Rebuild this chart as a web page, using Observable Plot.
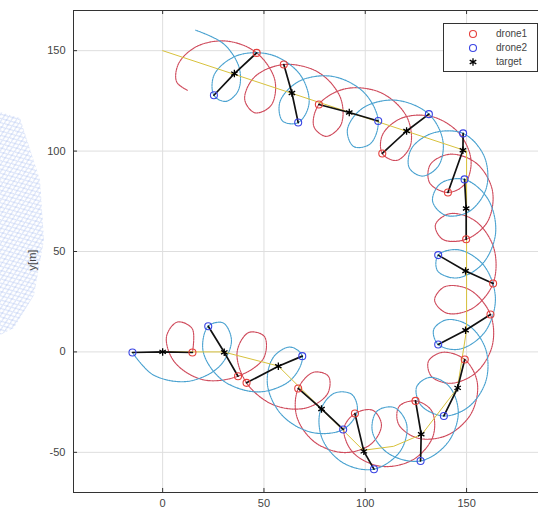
<!DOCTYPE html>
<html><head><meta charset="utf-8">
<script src="https://cdn.jsdelivr.net/npm/d3@7"></script>
<script src="https://cdn.jsdelivr.net/npm/@observablehq/plot@0.6"></script>
<style>
body{margin:0;background:#fff;font-family:"Liberation Sans",Arial,sans-serif;}
#wrap{position:relative;width:538px;height:509px;overflow:hidden;background:#fff;}
#wm{position:absolute;left:0;top:0;}
#chart{position:absolute;left:0;top:0;}
#ylab{position:absolute;left:32px;top:260px;transform:translate(-50%,-50%) rotate(-90deg);font-size:11px;color:#444;white-space:nowrap;}
#legend{position:absolute;left:443px;top:23px;width:95px;height:49px;border:1px solid #333;background:#fff;box-sizing:border-box;}
#legend .row{position:absolute;left:0;height:14px;font-size:10px;color:#444;line-height:14px;}
#legend svg{position:absolute;left:22px;}
#legend span{position:absolute;left:52px;}
</style></head>
<body>
<div id="wrap">
<svg id="wm" width="60" height="509">
  <defs>
    <pattern id="mesh" width="7" height="5" patternUnits="userSpaceOnUse" patternTransform="rotate(-20)">
      <path d="M0,0 L7,5 M7,0 L0,5" stroke="#8aa6ea" stroke-width="1"/>
    </pattern>
  </defs>
  <polygon points="0,112 20,118 40,180 44,240 34,295 14,328 0,335" fill="url(#mesh)" opacity="0.45"/>
</svg>
<div id="chart"></div>
<div id="ylab">y[m]</div>
<div id="legend"></div>
</div>
<script>
// ---- tick values ----
const xTicks = [0, 50, 100, 150];
const yTicks = [-50, 0, 50, 100, 150];

// ---- drone1 trajectory (red), time ordered ----
const d1X = [14.7,14.6,7.29,1.9,5.84,19.87,
 37.2,49.82,50.26,42.5,36.75,
 41.4,54.93,70.94,81.42,81.84,74.5,
 66.9,66.14,74.95,89.71,102.87,107.98,103.69,
 94.9,89.46,93.87,107.57,123.64,133.45,132.81,
 124.8,116.68,116.41,125.86,140.49,152.34,155.3,
 149.1,138.17,131.15,132.72,142.34,154.67,162.63,
 161.8,151.51,139.31,134.23,140.03,152.58,
 163.1,163.41,154.09,141.53,134.6,138.23,
 149.8,160.31,162.79,155.05,141.95,132.09,131.82,
 140.8,149.0,152.21,146.3,132.74,117.78,108.5,
 108.4,115.49,122.3,120.48,107.93,90.4,
 77.1,74.63,80.76,87.99,87.78,76.92,
 59.8,45.29,40.5,45.57,53.54,55.37,
 46.4,31.94,17.19,7.94,6.88,
 12.2];
const d1Y = [-0.3,11.57,14.88,7.61,-5.0,-13.85,
 -12.1,-3.13,7.62,9.68,-0.06,
 -15.4,-26.48,-27.88,-20.77,-12.17,-10.13,
 -18.2,-31.95,-44.84,-50.12,-45.87,-36.31,-29.07,
 -30.7,-38.23,-50.0,-56.94,-53.64,-41.91,-29.41,
 -24.4,-27.18,-35.95,-42.92,-41.46,-30.54,-15.3,
 -3.8,-0.19,-4.76,-12.25,-15.61,-10.31,2.95,
 18.6,30.94,32.5,25.82,19.38,21.48,
 34.1,51.83,65.38,68.8,63.18,56.06,
 56.1,64.79,80.16,93.76,98.45,93.28,84.11,
 79.4,83.46,95.24,108.89,117.22,116.34,108.1,
 98.8,95.35,102.81,117.07,128.97,131.08,
 123.2,112.24,107.36,113.11,126.52,139.18,
 143.1,136.85,125.73,119.05,122.77,135.37,
 148.9,154.72,152.27,143.71,134.48,
 130.3];

// ---- drone2 trajectory (blue), time ordered ----
const d2X = [-14.9,-4.64,12.61,27.96,33.96,29.89,
 22.5,20.0,29.68,47.56,63.43,
 68.9,62.99,54.6,51.74,58.92,73.88,
 89.1,96.04,93.39,84.81,77.81,78.88,89.33,
 104.3,117.3,120.45,114.31,105.78,103.53,111.73,
 127.3,140.54,145.91,141.58,132.07,125.34,127.48,
 138.8,151.15,159.57,159.42,151.22,140.31,133.75,
 136,146.51,158.93,164.23,158.63,146.3,
 136,135.65,144.91,157.43,164.3,160.63,
 149,137.11,133.23,139.59,151.31,159.79,158.66,
 148.3,133.06,122.81,121.68,128.18,136.1,138.34,
 131.4,114.93,98.74,91.18,94.33,102.48,
 106.4,99.41,83.8,67.11,57.86,59.24,
 66.9,72.25,67.86,53.63,36.5,25.49,
 25.3,31.12,37.23,37.84,30.26,
 16.3];
const d2Y = [-0.3,-11.45,-14.64,-7.25,5.46,14.43,
 12.8,0.19,-14.2,-19.9,-13.8,
 -2.1,2.42,-2.72,-16.39,-31.53,-40.13,
 -38.6,-29.47,-21.18,-20.52,-29.39,-43.57,-55.41,
 -58.4,-49.39,-36.12,-27.7,-29.52,-39.77,-50.77,
 -54.3,-45.38,-30.47,-17.36,-12.66,-17.44,-26.54,
 -31.9,-27.23,-14.36,1.41,13.05,16.03,11.07,
 3.7,1.36,9.8,26.48,42.92,50.82,
 48.2,40.43,36.82,43.36,58.92,76.0,
 85.9,83.81,75.04,68.04,69.95,81.72,97.49,
 108.8,108.88,101.24,91.73,87.56,92.58,104.96,
 118.4,125.35,121.39,110.63,102.23,103.62,
 115.0,129.14,137.2,134.65,124.42,114.94,
 114.2,123.69,138.03,147.95,147.47,138.09,
 127.8,124.74,129.95,141.27,153.26,
 160.2];

// ---- target path ----
const tPathX = [0,30,57,78,99,114,128,145.5,150,150,150,150,0];
const tPathY = [0,0,-7,-28,-49,-47,-41,-18,11,41,71,100,150];

// ---- snapshots (drone1, target, drone2) ----
const sD1X = [14.7,37.2,41.4,66.9,94.9,124.8,149.1,161.8,163.1,149.8,140.8,108.4,77.1,59.8,46.4];
const sD1Y = [-0.3,-12.1,-15.4,-18.2,-30.7,-24.4,-3.8,18.6,34.1,56.1,79.4,98.8,123.2,143.1,148.9];
const sTX  = [0,30.4,57.1,78.4,99.3,127.6,145.6,149.5,149.5,149.8,148.2,120.4,92.1,63.8,35.4];
const sTY  = [0,-0.2,-7.1,-28.4,-49.5,-41.0,-17.9,10.8,40.3,71.4,100.4,110.0,119.2,128.9,138.6];
const sD2X = [-14.9,22.5,68.9,89.1,104.3,127.3,138.8,136,136,149,148.3,131.4,106.4,66.9,25.3];
const sD2Y = [-0.3,12.8,-2.1,-38.6,-58.4,-54.3,-31.9,3.7,48.2,85.9,108.8,118.4,115.0,114.2,127.8];

// ---- build tables ----
const drone1 = d1X.map((x, i) => ({x, y: d1Y[i]}));
const drone2 = d2X.map((x, i) => ({x, y: d2Y[i]}));
const tpath = tPathX.map((x, i) => ({x, y: tPathY[i]}));
const snapD1 = sD1X.map((x, i) => ({x, y: sD1Y[i]}));
const snapD2 = sD2X.map((x, i) => ({x, y: sD2Y[i]}));
const snapT = sTX.map((x, i) => ({x, y: sTY[i]}));
const links = [];
sTX.forEach((_, k) => {
  links.push({k, x: sD1X[k], y: sD1Y[k]});
  links.push({k, x: sTX[k], y: sTY[k]});
  links.push({k, x: sD2X[k], y: sD2Y[k]});
});

const xDom = [-44, 185.5], yDom = [-70, 170];
const RED = "#cf4b5c", BLUE = "#4aa2d0";
const fmt = d => String(d);

const chart = Plot.plot({
  width: 538, height: 509,
  marginLeft: 73, marginRight: 0, marginTop: 10, marginBottom: 17,
  style: {fontFamily: '"Liberation Sans", Arial, sans-serif', background: "transparent"},
  x: {domain: xDom},
  y: {domain: yDom},
  marks: [
    Plot.gridX(xTicks, {stroke: "#dedede", strokeOpacity: 1}),
    Plot.gridY(yTicks, {stroke: "#dedede", strokeOpacity: 1}),
    Plot.line(drone1, {x: "x", y: "y", stroke: RED, strokeWidth: 1.15, strokeDasharray: "1.6,0.9", curve: "catmull-rom"}),
    Plot.line(drone2, {x: "x", y: "y", stroke: BLUE, strokeWidth: 1.15, strokeDasharray: "1.6,0.9", curve: "catmull-rom"}),
    Plot.line(tpath, {x: "x", y: "y", stroke: "#d8c23c", strokeWidth: 1}),
    Plot.line(links, {x: "x", y: "y", z: "k", stroke: "#111", strokeWidth: 1.7}),
    Plot.dot(snapD1, {x: "x", y: "y", r: 3.5, stroke: "#e6403c", strokeWidth: 1.1, fill: "none"}),
    Plot.dot(snapD2, {x: "x", y: "y", r: 3.5, stroke: "#3a44e4", strokeWidth: 1.1, fill: "none"}),
    Plot.dot(snapT, {x: "x", y: "y", r: 3.5, symbol: "asterisk", stroke: "#000", strokeWidth: 1.3}),
    Plot.ruleX([xDom[0]], {stroke: "#333", strokeWidth: 1}),
    Plot.ruleY(yDom, {stroke: "#333", strokeWidth: 1}),
    Plot.ruleX(xTicks, {x: d => d, y1: yDom[0], y2: yDom[0] + 2, stroke: "#333"}),
    Plot.ruleX(xTicks, {x: d => d, y1: yDom[1], y2: yDom[1] - 2, stroke: "#333"}),
    Plot.ruleY(yTicks, {y: d => d, x1: xDom[0], x2: xDom[0] + 2, stroke: "#333"}),
    Plot.axisX(xTicks, {anchor: "bottom", tickSize: 0, tickPadding: 7, fontSize: 11, fill: "#444", label: null, tickFormat: fmt}),
    Plot.axisY(yTicks, {anchor: "left", tickSize: 0, tickPadding: 8, fontSize: 11, fill: "#444", label: null, tickFormat: fmt})
  ]
});
document.getElementById("chart").appendChild(chart);

// ---- legend ----
const legendItems = [
  {name: "drone1", kind: "circle", color: "#e6403c"},
  {name: "drone2", kind: "circle", color: "#3a44e4"},
  {name: "target", kind: "asterisk", color: "#000"}
];
const leg = document.getElementById("legend");
legendItems.forEach((it, i) => {
  const row = document.createElement("div");
  row.className = "row";
  row.style.top = (3 + i * 14) + "px";
  row.style.width = "93px";
  const sym = it.kind === "circle"
    ? `<circle cx="7" cy="7" r="3.5" fill="none" stroke="${it.color}" stroke-width="1.1"/>`
    : `<path d="${d3.symbol(d3.symbolAsterisk, 40)()}" transform="translate(7,7)" stroke="#000" stroke-width="1.3" fill="none"/>`;
  row.innerHTML = `<svg width="14" height="14">${sym}</svg><span>${it.name}</span>`;
  leg.appendChild(row);
});
</script>
</body></html>
